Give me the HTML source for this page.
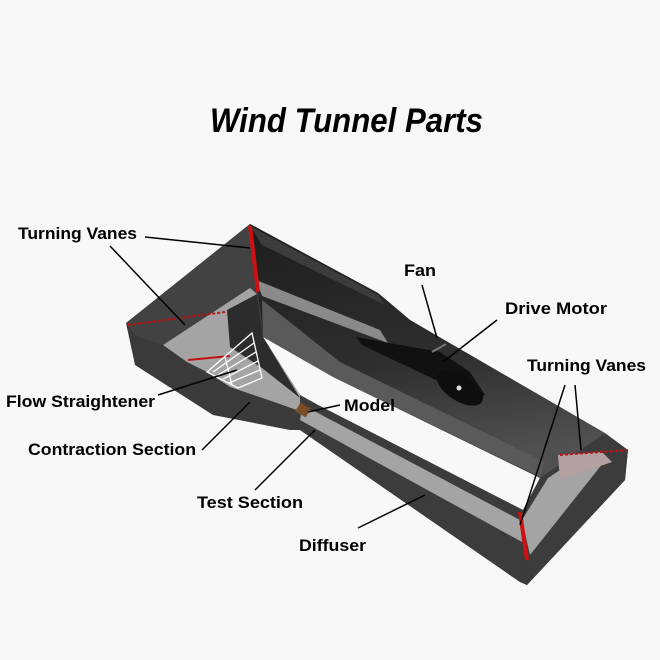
<!DOCTYPE html>
<html><head><meta charset="utf-8"><style>
html,body{margin:0;padding:0;background:#f8f8f8;}
svg{display:block;}
text{font-family:"Liberation Sans",Arial,sans-serif;font-weight:bold;fill:#000;}
</style></head><body>
<svg width="660" height="660" viewBox="0 0 660 660" xmlns="http://www.w3.org/2000/svg">
<defs>
<linearGradient id="tube" x1="0" y1="0" x2="0.2" y2="1">
<stop offset="0" stop-color="#1e1e1e"/><stop offset="0.6" stop-color="#2e2e2e"/><stop offset="1" stop-color="#505050"/>
</linearGradient>
</defs>
<rect width="660" height="660" fill="#f8f8f8"/>
<text x="210" y="132" font-size="34" font-style="italic" textLength="273" lengthAdjust="spacingAndGlyphs">Wind  Tunnel  Parts</text>

<polygon points="126,323 250,224 378,293 410,320 628,450 625,480 527,585 520,582 300,430 290,430 213,415 135,365" fill="#3a3a3a"/>
<polygon points="126,323 250,224 258,290 163,345 135,335" fill="#424242"/>
<polygon points="250,224 378,293 410,320 605,433 548,478 540,477 333,377 263,337 258,290" fill="url(#tube)"/>
<polygon points="250,226 378,295 385,305 262,245" fill="#3c3c3c"/>
<polygon points="256,280 380,330 388,343 262,296" fill="#8a8a8a"/>
<polygon points="262,300 263,337 333,377 540,477 545,462 340,362" fill="#5a5a5a"/>
<polygon points="356,337 362,345 440,382 470,400 485,395 470,372 440,352" fill="#111"/>
<ellipse cx="460" cy="388" rx="26" ry="13" transform="rotate(32 460 388)" fill="#0e0e0e"/>
<circle cx="459" cy="388" r="2.5" fill="#ddd"/>
<line x1="432" y1="352" x2="446" y2="344" stroke="#777" stroke-width="2"/>
<polygon points="263,337 333,377 540,478 523,510 318,405 300,395" fill="#f8f8f8"/>
<polygon points="163,345 250,288 257,294 263,337 300,395 305,413 277,403 230,387 207,372 187,362" fill="#a4a4a4"/>
<polygon points="227,310 257,294 263,337 300,398 262,368 230,347" fill="#2c2c2c"/>
<polygon points="300,395 318,405 523,510 527,585 520,582 300,430" fill="#3c3c3c"/>
<polygon points="302,408 316,412 520,520 522,542 300,420" fill="#a4a4a4"/>
<polygon points="523,510 540,478 605,433 628,450 625,480 527,585" fill="#3c3c3c"/>
<polygon points="522,520 548,478 560,470 607,458 530,555" fill="#a4a4a4"/>
<polygon points="558,455 602,452 612,462 560,480" fill="#b4a0a0"/>
<line x1="250" y1="226" x2="258" y2="292" stroke="#d01010" stroke-width="4"/>
<line x1="128" y1="325" x2="225" y2="312" stroke="#c01010" stroke-width="2" stroke-dasharray="3,2"/>
<line x1="188" y1="360" x2="230" y2="356" stroke="#c01010" stroke-width="2"/>
<line x1="520" y1="512" x2="527" y2="560" stroke="#d01010" stroke-width="4"/>
<line x1="560" y1="455" x2="628" y2="450" stroke="#c01010" stroke-width="2" stroke-dasharray="3,2"/>
<g stroke="#fff" stroke-width="1.3" fill="none">
<polygon points="207,372 252,333 262,378 238,388"/>
<line x1="213" y1="372" x2="254" y2="343"/><line x1="218" y1="375" x2="256" y2="352"/>
<line x1="223" y1="379" x2="258" y2="361"/><line x1="229" y1="383" x2="260" y2="370"/>
<line x1="225" y1="357" x2="232" y2="385"/>
</g>
<rect x="297" y="405" width="12" height="10" fill="#7a4e24" transform="rotate(30 303 410)"/>

<g stroke="#000" stroke-width="1.5">
<line x1="145" y1="237" x2="250" y2="248"/>
<line x1="110" y1="246" x2="185" y2="325"/>
<line x1="422" y1="285" x2="437" y2="338"/>
<line x1="497" y1="320" x2="443" y2="362"/>
<line x1="565" y1="385" x2="520" y2="525"/>
<line x1="575" y1="385" x2="581" y2="450"/>
<line x1="158" y1="395" x2="237" y2="370"/>
<line x1="340" y1="405" x2="308" y2="412"/>
<line x1="202" y1="450" x2="250" y2="402"/>
<line x1="255" y1="490" x2="315" y2="430"/>
<line x1="358" y1="528" x2="425" y2="495"/>
</g>
<g font-size="17">
<text x="18" y="239" textLength="119" lengthAdjust="spacingAndGlyphs">Turning Vanes</text>
<text x="404" y="276" textLength="32" lengthAdjust="spacingAndGlyphs">Fan</text>
<text x="505" y="314" textLength="102" lengthAdjust="spacingAndGlyphs">Drive  Motor</text>
<text x="527" y="371" textLength="119" lengthAdjust="spacingAndGlyphs">Turning Vanes</text>
<text x="6" y="407" textLength="149" lengthAdjust="spacingAndGlyphs">Flow Straightener</text>
<text x="344" y="411" textLength="51" lengthAdjust="spacingAndGlyphs">Model</text>
<text x="28" y="455" textLength="168" lengthAdjust="spacingAndGlyphs">Contraction Section</text>
<text x="197" y="508" textLength="106" lengthAdjust="spacingAndGlyphs">Test Section</text>
<text x="299" y="551" textLength="67" lengthAdjust="spacingAndGlyphs">Diffuser</text>
</g>
</svg>
</body></html>
